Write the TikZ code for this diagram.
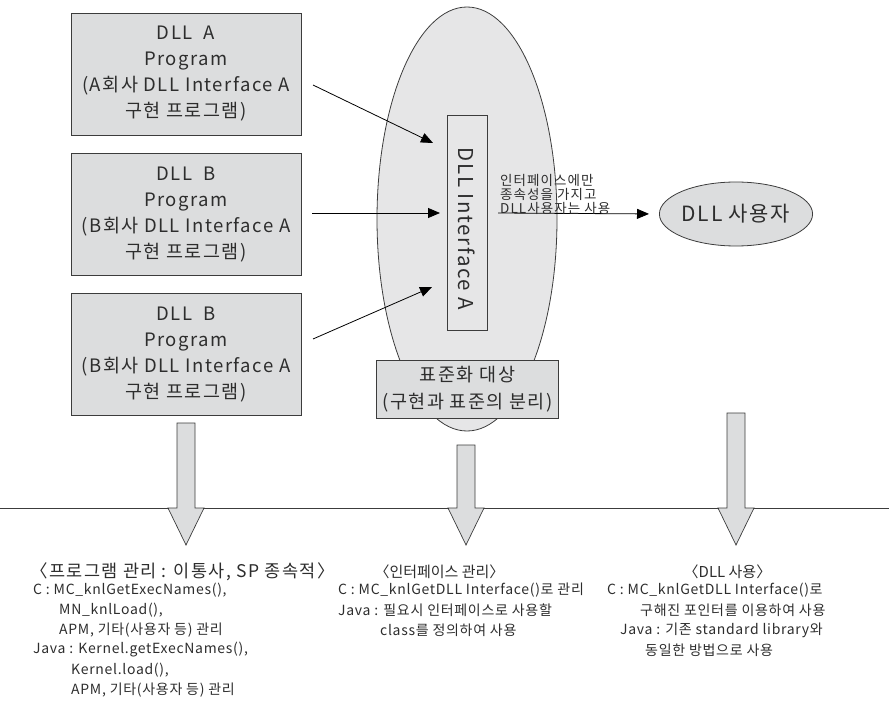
\documentclass[tikz,border=0pt]{standalone}
\usepackage{fontspec}
\setmainfont[LetterSpace=8]{Noto Sans CJK KR}
\newfontfamily\bodyfont[LetterSpace=5]{Noto Sans CJK KR}
\newfontfamily\plainfont{Noto Sans CJK KR}
\usetikzlibrary{shapes.geometric,arrows.meta}
\definecolor{boxgray}{RGB}{220,221,222}
\definecolor{ellgray}{RGB}{230,230,231}
\definecolor{linegray}{RGB}{60,60,60}
\definecolor{textgray}{RGB}{45,45,45}
\newcommand\lbrk{\kern-0.4em 〈}
\newcommand\rbrk{〉\kern-0.4em}
\newcommand\bigdownarrow[2]{%
  \filldraw[bigarrow] ({#1-9},#2) -- ({#1+9},#2) -- ({#1+9},508) -- ({#1+18},508)
    -- (#1,545) -- ({#1-18},508) -- ({#1-9},508) -- cycle;}
\begin{document}
\begin{tikzpicture}[x=1pt,y=-1pt,
  every node/.style={text=textgray},
  progbox/.style={draw=linegray, fill=boxgray, line width=0.8pt, minimum width=230pt,
    minimum height=122pt, align=center, inner sep=0pt, font=\fontsize{18.5}{26}\selectfont},
  conn/.style={draw=black, line width=0.8pt, -{Triangle[length=12pt,width=10pt]}},
  bigarrow/.style={draw=linegray, fill=boxgray, line width=0.7pt},
  bodytxt/.style={anchor=west, inner sep=0pt, font=\bodyfont\fontsize{14}{16}\selectfont},
  headtxt/.style={anchor=west, inner sep=0pt, font=\fontsize{17.5}{18}\selectfont},
  smallhead/.style={inner sep=0pt, font=\plainfont\fontsize{15}{18}\selectfont}
]
\useasboundingbox (0,0) rectangle (889,711);

% boxes
\node[progbox] (progA) at (186,74) {DLL\ \ A\\Program\\(A회사 DLL Interface A\\구현 프로그램)};
\node[progbox] (progB) at (186,214.5) {DLL\ \ B\\Program\\(B회사 DLL Interface A\\구현 프로그램)};
\node[progbox] (progC) at (186,354.5) {DLL\ \ B\\Program\\(B회사 DLL Interface A\\구현 프로그램)};

% big ellipse
\node[ellipse, draw=linegray, fill=ellgray, line width=0.8pt, minimum width=180pt,
  minimum height=424pt, inner sep=0pt] (ell) at (467,219) {};
\node[draw=linegray, fill=ellgray, line width=0.8pt, minimum width=40pt, minimum height=215pt,
  inner sep=0pt] (iface) at (467,222.5) {};
\node[rotate=-90, font=\fontsize{20.5}{22}\selectfont, inner sep=0pt] (ifacetxt) at (467,229) {DLL Interface A};
\node[draw=linegray, fill=boxgray, line width=0.8pt, minimum width=182pt, minimum height=58pt,
  inner sep=0pt, align=center, font=\fontsize{18.5}{27}\selectfont] (std) at (467.5,389)
  {표준화 대상\\(구현과 표준의 분리)};

% user ellipse
\node[ellipse, draw=linegray, fill=boxgray, line width=0.8pt, minimum width=116pt,
  minimum height=64pt, inner sep=0pt, font=\fontsize{21}{22}\selectfont] (user) at (736,214) {DLL 사용자};

% connectors
\coordinate (aS) at (313,85);  \coordinate (aT) at (433,143);
\coordinate (bS) at (312,213); \coordinate (bT) at (440,213);
\coordinate (cS) at (313,339); \coordinate (cT) at (432,287);
\coordinate (uS) at (498,213);
\draw[conn] (aS) -- (aT);
\draw[conn] (bS) -- (bT);
\draw[conn] (cS) -- (cT);
\draw[conn, shorten >=10pt] (uS) -- (user.west);
\node[anchor=south west, align=left, inner sep=0pt, font=\fontsize{13.5}{14}\selectfont] (lbl) at (500,215)
  {인터페이스에만\\종속성을 가지고\\DLL사용자는 사용};

% horizontal line and big arrows
\coordinate (hl) at (0,508); \coordinate (hr) at (889,508);
\draw[draw=linegray, line width=0.7pt] (hl) -- (hr);
\bigdownarrow{186}{423}
\bigdownarrow{466}{445}
\bigdownarrow{736}{413}

% bottom left
\node[headtxt] (l0) at (30,572) {〈프로그램 관리 : 이통사, SP 종속적〉};
\node[bodytxt] (l1) at (33,590) {C : MC\_knlGetExecNames(),};
\node[bodytxt] (l2) at (59,610) {MN\_knlLoad(),};
\node[bodytxt] (l3) at (59,630) {APM, 기타(사용자 등) 관리};
\node[bodytxt] (l4) at (33,650) {Java : Kernel.getExecNames(),};
\node[bodytxt] (l5) at (71,670) {Kernel.load(),};
\node[bodytxt] (l6) at (71,690) {APM, 기타(사용자 등) 관리};

% bottom middle
\node[smallhead] (m0) at (439.5,572) {\lbrk 인터페이스 관리\rbrk};
\node[bodytxt] (m1) at (338,590) {C : MC\_knlGetDLL Interface()로 관리};
\node[bodytxt] (m2) at (338,610) {Java : 필요시 인터페이스로 사용할};
\node[bodytxt] (m3) at (380,630) {class를 정의하여 사용};

% bottom right
\node[smallhead] (r0) at (727.5,572) {\lbrk DLL 사용\rbrk};
\node[bodytxt] (r1) at (607,590) {C : MC\_knlGetDLL Interface()로};
\node[bodytxt] (r2) at (640,610) {구해진 포인터를 이용하여 사용};
\node[bodytxt] (r3) at (620,630) {Java : 기존 standard library와};
\node[bodytxt] (r4) at (645,650) {동일한 방법으로 사용};
\end{tikzpicture}
\end{document}
